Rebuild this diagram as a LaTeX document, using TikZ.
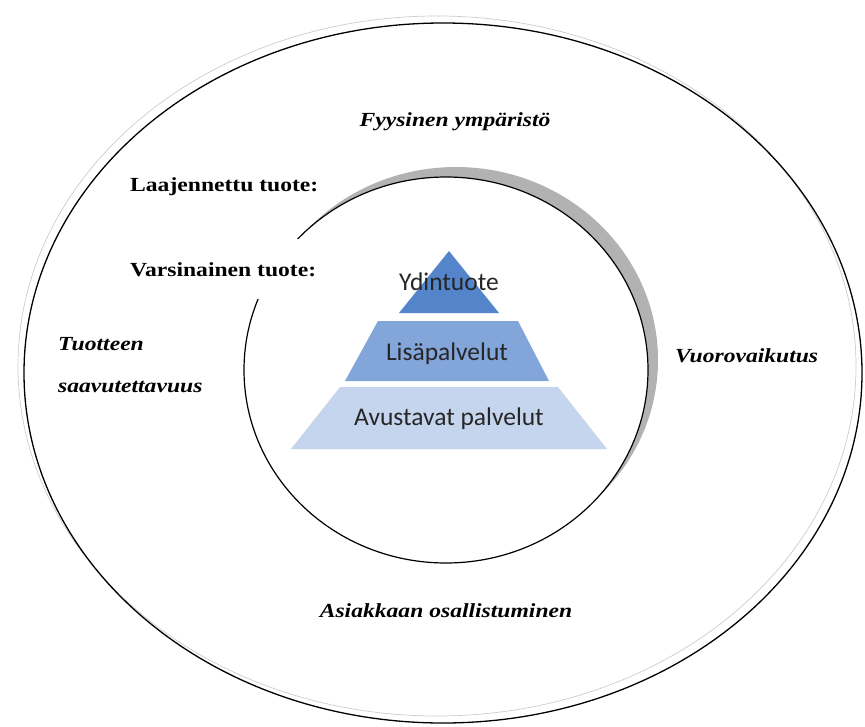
\documentclass[tikz,border=0pt]{standalone}
\usepackage{fontspec}
\usetikzlibrary{positioning}
\newfontfamily\labelfont[FakeStretch=1.18]{Liberation Serif}
\newfontfamily\levelfont{Carlito}
\definecolor{coreblue}{RGB}{84,132,202}
\definecolor{midblue}{RGB}{130,165,218}
\definecolor{baseblue}{RGB}{198,213,238}
\tikzstyle{tag} = [inner sep=0pt, font=\labelfont\bfseries\fontsize{20}{24}\selectfont]
\tikzstyle{theme} = [inner sep=0pt, font=\labelfont\bfseries\itshape\fontsize{20}{24}\selectfont]
\tikzstyle{level} = [inner sep=0pt, text=black!85, font=\levelfont\fontsize{25.5}{30}\selectfont]
\tikzstyle{ring} = [draw=black, line width=1.2pt]
\begin{document}
\begin{tikzpicture}[x=1pt, y=-1pt]
    \useasboundingbox (0,0) rectangle (865,726);
    % Outer ring with its faint second line
    \draw [gray!40, line width=0.7pt] (437,366) ellipse [x radius=419pt, y radius=350pt];
    \draw [line width=1.3pt] (443,373) ellipse [x radius=419pt, y radius=350pt];
    % Inner ring with shadow
    \fill [gray!60] (456,360) ellipse [x radius=202pt, y radius=193pt];
    \fill [white] (446,370) ellipse [x radius=202pt, y radius=193pt];
    \draw [ring] (446,370) ellipse [x radius=202pt, y radius=193pt];
    % Pyramid
    \fill [coreblue] (449,251) -- (499,313) -- (399,313) -- cycle;
    \fill [midblue] (378,321) -- (518,321) -- (549,381) -- (345,381) -- cycle;
    \fill [baseblue] (340,387) -- (558,387) -- (607,449) -- (291,449) -- cycle;
    \node [level, anchor=base] (ydin) at (449,290) {Ydintuote};
    \node [level, anchor=base] (lisa) at (447,360) {Lisäpalvelut};
    \node [level, anchor=base] (avustavat) at (449,425) {Avustavat palvelut};
    % Place labels
    \node [theme, anchor=base] (fyysinen) at (455,126) {Fyysinen ympäristö};
    \node [tag, anchor=base west] (laajennettu) at (130,191) {Laajennettu tuote:};
    \node [tag, anchor=base west, fill=white, minimum height=60pt] (varsinainen) at (130,276) {Varsinainen tuote:};
    \node [theme, anchor=base west] (tuotteen) at (58,350) {Tuotteen};
    \node [theme, anchor=base west] (saavutettavuus) at ([yshift=-42pt]tuotteen.base west) {saavutettavuus};
    \node [theme, anchor=base west] (vuoro) at (675,362) {Vuorovaikutus};
    \node [theme, anchor=base] (asiakkaan) at (446,617) {Asiakkaan osallistuminen};
\end{tikzpicture}
\end{document}
